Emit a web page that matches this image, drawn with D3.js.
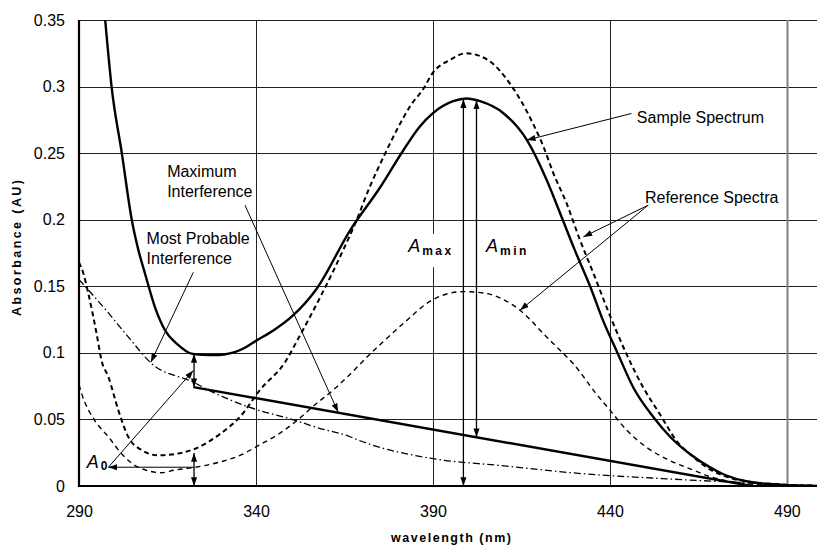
<!DOCTYPE html>
<html>
<head>
<meta charset="utf-8">
<script src="https://cdn.jsdelivr.net/npm/d3@7"></script>
<style>
  html, body { margin: 0; padding: 0; background: #fff; }
  svg { display: block; font-family: "Liberation Sans", Arial, Helvetica, sans-serif; }
</style>
</head>
<body>
<svg id="chart" width="817" height="546"></svg>
<script>
// ---- spectra: wavelength (nm) / absorbance (AU) ----
const sampleWl  = [297.4, 299.2, 302.1, 304.9, 306.8, 308.6, 311.5, 314.3, 318.0, 321.8, 325.0, 328.0, 331.0, 334.0, 337.0, 340.0, 345.0, 350.0, 357.1, 366.6, 375.0, 381.6, 386.3, 390.0, 395.7, 399.5, 403.3, 409.9, 416.5, 422.1, 425.9, 430.1, 434.4, 438.1, 442.3, 446.6, 452.2, 457.0, 462.6, 468.3, 471.9, 479.6, 488.0, 498.5];
const sampleAbs = [0.350, 0.300, 0.250, 0.200, 0.177, 0.160, 0.134, 0.117, 0.106, 0.0994, 0.0985, 0.0983, 0.0988, 0.1005, 0.104, 0.109, 0.117, 0.127, 0.148, 0.192, 0.224, 0.252, 0.270, 0.280, 0.289, 0.291, 0.289, 0.280, 0.260, 0.230, 0.205, 0.177, 0.150, 0.124, 0.099, 0.074, 0.052, 0.037, 0.024, 0.014, 0.009, 0.003, 0.001, 0.000];

const refHighWl  = [290, 291.2, 292.6, 295.0, 296.4, 298.3, 301.1, 303.9, 307.7, 312.4, 317.1, 322.8, 329.8, 335.5, 341.1, 348.2, 352.0, 364.6, 368.0, 372.2, 376.0, 379.7, 383.5, 387.7, 389.6, 394.8, 399.3, 405.5, 411.8, 418.3, 421.2, 424.0, 427.8, 431.5, 435.3, 439.1, 444.7, 449.4, 454.1, 458.8, 463.5, 467.3, 474.0, 480.0, 490.0, 498.5];
const refHighAbs = [0.168, 0.160, 0.145, 0.114, 0.094, 0.082, 0.057, 0.037, 0.027, 0.023, 0.024, 0.028, 0.039, 0.052, 0.072, 0.093, 0.111, 0.177, 0.197, 0.225, 0.247, 0.267, 0.285, 0.300, 0.309, 0.320, 0.325, 0.320, 0.302, 0.272, 0.255, 0.235, 0.212, 0.185, 0.160, 0.134, 0.099, 0.074, 0.054, 0.034, 0.022, 0.014, 0.006, 0.003, 0.001, 0.000];

const refLowWl  = [290, 290.8, 294.5, 298.3, 302.1, 306.8, 313.4, 317.1, 322.8, 329.8, 335.5, 341.1, 345.8, 351.5, 357.1, 361.8, 366.6, 372.2, 375.0, 381.6, 390.0, 398.6, 404.2, 414.6, 422.1, 425.9, 429.6, 436.2, 440.0, 444.7, 450.4, 457.0, 463.5, 468.3, 475.0, 482.0, 490.0, 498.5];
const refLowAbs = [0.076, 0.069, 0.049, 0.037, 0.024, 0.014, 0.010, 0.012, 0.014, 0.018, 0.023, 0.031, 0.038, 0.049, 0.062, 0.072, 0.084, 0.099, 0.106, 0.122, 0.140, 0.146, 0.145, 0.132, 0.112, 0.102, 0.092, 0.069, 0.057, 0.042, 0.029, 0.019, 0.012, 0.007, 0.003, 0.001, 0.0005, 0.000];

const probableWl  = [290, 298.3, 303.9, 310.5, 322.3, 327.0, 338.3, 351.5, 357.1, 366.6, 369.4, 390.1, 408.9, 432.5, 456.0, 474.7, 490.0, 498.5];
const probableAbs = [0.155, 0.130, 0.112, 0.092, 0.078, 0.0715, 0.059, 0.049, 0.044, 0.037, 0.034, 0.0205, 0.0154, 0.0092, 0.0054, 0.0029, 0.001, 0.0005];

// straight baseline of maximum interference
const maxIntWl  = [322.3, 480.0];
const maxIntAbs = [0.0743, 0.000];

// ---- axes ----
const xTicks = [290, 340, 390, 440, 490];
const yTicks = [0, 0.05, 0.1, 0.15, 0.2, 0.25, 0.3, 0.35];
const xDomain = [290, 498.5];
const yDomain = [0, 0.35];

// ---- annotation anchors, in data units ----
const pointerLines = [
  { from: [446.1, 0.2798], to: [416.5, 0.2598] },   // Sample Spectrum
  { from: [450.8, 0.2109], to: [432.5, 0.1871] },   // Reference Spectra (upper)
  { from: [450.8, 0.2109], to: [414.6, 0.1320] },   // Reference Spectra (lower)
  { from: [336.9, 0.2109], to: [363.2, 0.0555] },   // Maximum Interference
  { from: [322.3, 0.1605], to: [310.3, 0.0929] },   // Most Probable Interference
  { from: [298.3, 0.0141], to: [322.3, 0.0868] },   // A0 -> gap
  { from: [322.5, 0.0141], to: [298.3, 0.0141] }    // A0 horizontal
];
const textLabels = [
  { lines: ["Sample Spectrum"], at: [447.6, 0.2726] },
  { lines: ["Reference Spectra"], at: [449.9, 0.2122] },
  { lines: ["Maximum", "Interference"], at: [314.9, 0.2322] },
  { lines: ["Most Probable", "Interference"], at: [309.1, 0.1821] }
];

const W = 817, H = 546;
const margin = { top: 20, right: 0, bottom: 60, left: 79 };

const svg = d3.select("#chart");
const x = d3.scaleLinear().domain(xDomain).range([margin.left, W - margin.right]);
const y = d3.scaleLinear().domain(yDomain).range([H - margin.bottom, margin.top]);
const crisp = v => Math.round(v) + 0.5;

const zip = (a, b) => a.map((v, i) => [v, b[i]]);
const interp = (wl, ab, w) => {
  const i = d3.bisectLeft(wl, w);
  if (i <= 0) return ab[0];
  if (i >= wl.length) return ab[ab.length - 1];
  const t = (w - wl[i - 1]) / (wl[i] - wl[i - 1]);
  return ab[i - 1] + t * (ab[i] - ab[i - 1]);
};

// arrowhead
const defs = svg.append("defs");
defs.append("marker")
  .attr("id", "arrow")
  .attr("viewBox", "0 -4 10 8")
  .attr("refX", 10).attr("refY", 0)
  .attr("markerWidth", 9).attr("markerHeight", 7)
  .attr("markerUnits", "userSpaceOnUse")
  .attr("orient", "auto-start-reverse")
  .append("path").attr("d", "M0,-3.5L10,0L0,3.5Z").attr("fill", "#000");
defs.append("clipPath").attr("id", "plotClip")
  .append("rect")
  .attr("x", margin.left).attr("y", margin.top)
  .attr("width", W - margin.left - margin.right)
  .attr("height", H - margin.top - margin.bottom);

// grid
const grid = svg.append("g");
grid.selectAll("line.h").data(yTicks.filter(d => d > 0)).join("line")
  .attr("x1", margin.left).attr("x2", W - margin.right)
  .attr("y1", d => crisp(y(d))).attr("y2", d => crisp(y(d)))
  .attr("stroke", "#222").attr("stroke-width", 1);
grid.selectAll("line.v").data(xTicks.filter(d => d > xDomain[0])).join("line")
  .attr("x1", d => crisp(x(d))).attr("x2", d => crisp(x(d)))
  .attr("y1", margin.top).attr("y2", H - margin.bottom)
  .attr("stroke", d => d === 490 ? "#808080" : "#222")
  .attr("stroke-width", d => d === 490 ? 2 : 1);

// tick labels via axes
const fmt = d => String(+d.toFixed(2));
const yAxis = svg.append("g").attr("transform", `translate(${margin.left},0)`)
  .call(d3.axisLeft(y).tickValues(yTicks).tickSize(0).tickPadding(14).tickFormat(fmt));
const xAxis = svg.append("g").attr("transform", `translate(0,${H - margin.bottom})`)
  .call(d3.axisBottom(x).tickValues(xTicks).tickSize(0).tickPadding(19.5).tickFormat(d3.format("d")));
[yAxis, xAxis].forEach(a => {
  a.select(".domain").remove();
  a.selectAll("text").attr("font-size", 16).attr("fill", "#000")
    .attr("font-family", '"Liberation Sans", Arial, sans-serif');
});

// traces
const line = d3.line().x(d => x(d[0])).y(d => y(d[1])).curve(d3.curveMonotoneX);
const traces = svg.append("g").attr("clip-path", "url(#plotClip)").attr("fill", "none").attr("stroke", "#000");
traces.append("path").datum(zip(probableWl, probableAbs)).attr("d", line)
  .attr("stroke-width", 1.3).attr("stroke-dasharray", "7,3,1.5,3");
traces.append("path").datum(zip(refLowWl, refLowAbs)).attr("d", line)
  .attr("stroke-width", 1.4).attr("stroke-dasharray", "5,4");
traces.append("path").datum(zip(refHighWl, refHighAbs)).attr("d", line)
  .attr("stroke-width", 2).attr("stroke-dasharray", "5,3.5");
traces.append("path").datum(zip(maxIntWl, maxIntAbs)).attr("d", d3.line().x(d => x(d[0])).y(d => y(d[1])))
  .attr("stroke-width", 2.4);
traces.append("path").datum(zip(sampleWl, sampleAbs)).attr("d", line)
  .attr("stroke-width", 2.4).attr("stroke-linejoin", "round");

// axis lines
svg.append("line").attr("x1", margin.left).attr("x2", margin.left)
  .attr("y1", margin.top).attr("y2", H - margin.bottom + 1)
  .attr("stroke", "#000").attr("stroke-width", 2.2);
svg.append("line").attr("x1", margin.left - 1).attr("x2", W)
  .attr("y1", H - margin.bottom).attr("y2", H - margin.bottom)
  .attr("stroke", "#000").attr("stroke-width", 2.2);

// measurement arrows (double-headed)
const gapWl = 322.5, amaxWl = 398.6, aminWl = 402.3;
const measures = [
  { wl: gapWl,  top: interp(sampleWl, sampleAbs, gapWl), bottom: interp(maxIntWl, maxIntAbs, gapWl) },
  { wl: gapWl,  top: interp(refHighWl, refHighAbs, gapWl) - 0.003, bottom: 0 },
  { wl: amaxWl, top: interp(sampleWl, sampleAbs, amaxWl), bottom: 0 },
  { wl: aminWl, top: interp(sampleWl, sampleAbs, aminWl), bottom: interp(maxIntWl, maxIntAbs, aminWl) }
];
const ann = svg.append("g");
ann.selectAll("line.m").data(measures).join("line")
  .attr("x1", d => x(d.wl)).attr("x2", d => x(d.wl))
  .attr("y1", d => y(d.top)).attr("y2", d => y(d.bottom))
  .attr("stroke", "#000").attr("stroke-width", 1.3)
  .attr("marker-start", "url(#arrow)").attr("marker-end", "url(#arrow)");

// pointer lines
ann.selectAll("line.p").data(pointerLines).join("line")
  .attr("x1", d => x(d.from[0])).attr("y1", d => y(d.from[1]))
  .attr("x2", d => x(d.to[0])).attr("y2", d => y(d.to[1]))
  .attr("stroke", "#000").attr("stroke-width", 1)
  .attr("marker-end", "url(#arrow)");

// callout text
const labels = svg.append("g").attr("font-size", 16).attr("fill", "#000");
textLabels.forEach(l => {
  const t = labels.append("text").attr("x", x(l.at[0])).attr("y", y(l.at[1]));
  l.lines.forEach((s, i) => t.append("tspan").attr("x", x(l.at[0])).attr("dy", i ? 20.5 : 0).text(s));
});

// A_max, A_min, A_0 symbols
function symbol(at, sub, subSize, spacing, dy, box) {
  const g = svg.append("g");
  const t = g.append("text").attr("x", x(at[0])).attr("y", y(at[1])).attr("fill", "#000");
  t.append("tspan").attr("font-style", "italic").attr("font-size", 18).text("A");
  t.append("tspan").attr("font-weight", "bold").attr("font-size", subSize)
    .attr("letter-spacing", spacing).attr("dx", 2).attr("dy", dy).text(sub);
  if (box) {
    const b = t.node().getBBox();
    g.insert("rect", "text").attr("x", b.x - 3).attr("y", b.y - 2)
      .attr("width", b.width + 4).attr("height", b.height + 11).attr("fill", "#fff");
  }
}
symbol([383.0, 0.1758], "max", 12, 2.5, 3.3, true);
symbol([405.0, 0.1758], "min", 12, 2.5, 3.3, false);
symbol([292.2, 0.0133], "0", 12, 0, 1.7, false);

// axis titles
svg.append("text")
  .attr("x", (margin.left + W) / 2 + 3).attr("y", 541.5)
  .attr("text-anchor", "middle").attr("font-weight", "bold").attr("font-size", 12.5)
  .attr("textLength", 120).attr("lengthAdjust", "spacing")
  .text("wavelength (nm)");
svg.append("text")
  .attr("transform", `translate(21,${(margin.top + H - margin.bottom) / 2 - 5}) rotate(-90)`)
  .attr("text-anchor", "middle").attr("font-weight", "bold").attr("font-size", 12.5)
  .attr("textLength", 136).attr("lengthAdjust", "spacing")
  .text("Absorbance (AU)");
</script>
</body>
</html>
